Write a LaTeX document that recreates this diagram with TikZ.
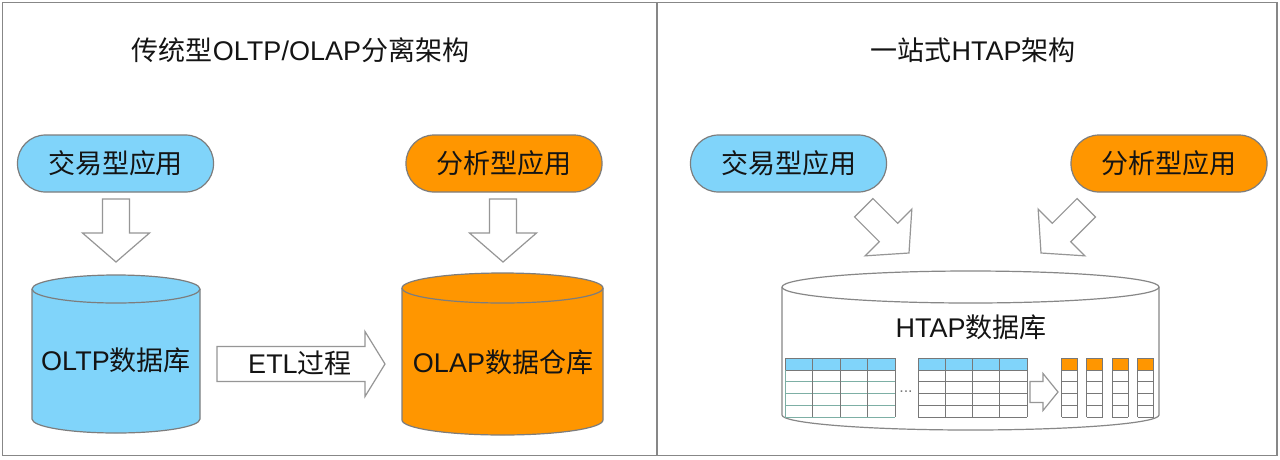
\documentclass[tikz,border=0pt]{standalone}
\usepackage{fontspec}
\setmainfont{Liberation Sans}
\newfontfamily\cjk{Noto Sans CJK SC}
\definecolor{appblue}{RGB}{128,212,250}
\definecolor{apporange}{RGB}{255,150,0}
\definecolor{edgegray}{RGB}{125,125,125}
\definecolor{framegray}{RGB}{135,135,135}
\definecolor{arrowgray}{RGB}{150,150,150}
\definecolor{gridgray}{RGB}{120,120,120}
\definecolor{gridteal}{RGB}{125,175,165}
\definecolor{txt}{RGB}{20,20,20}
\begin{document}
\begin{tikzpicture}[x=1pt,y=1pt,
  pill/.style={draw=edgegray, line width=1.2pt, rounded corners=28pt,
    minimum width=196pt, minimum height=57pt, inner sep=0pt,
    font=\fontsize{27}{32}\selectfont, text=txt},
  lbl/.style={inner sep=0pt, font=\fontsize{27}{32}\selectfont, text=txt},
  cyl/.style={draw=edgegray, line width=1.2pt},
  arrowline/.style={draw=arrowgray, fill=white, line width=1.2pt, line join=miter},
  pics/blockarr/.style n args={4}{code={
    \draw[arrowline] (0,0) -- (-#2,#3) -- (-#2,#4) -- (-#1,#4) -- (-#1,-#4)
      -- (-#2,-#4) -- (-#2,-#3) -- cycle;}},
  grid/.style={draw=gridgray, line width=0.8pt},
  tgrid/.style={draw=gridteal, line width=0.8pt}
]
\useasboundingbox (0,0) rectangle (1280,-459);
\fill[white] (0,0) rectangle (1280,-459);

% frames
\draw[framegray, line width=1.5pt] (2.5,-2.5) rectangle (1277,-455.5);
\draw[framegray, line width=1.5pt] (657,-2.5) -- (657,-455.5);

% titles
\node[lbl] (title1) at (300.5,-50) {{\cjk 传统型}OLTP/OLAP{\cjk 分离架构}};
\node[lbl] (title2) at (973,-50) {{\cjk 一站式}HTAP{\cjk 架构}};

% application pills
\node[pill, fill=appblue] (tx1) at (115.5,-163.5) {\cjk 交易型应用};
\node[pill, fill=apporange] (an1) at (504,-163.5) {\cjk 分析型应用};
\node[pill, fill=appblue] (tx2) at (788.5,-163.5) {\cjk 交易型应用};
\node[pill, fill=apporange] (an2) at (1169,-163.5) {\cjk 分析型应用};

% left cylinder (OLTP)
\path[cyl, fill=appblue] (32,-289) -- (32,-419)
  arc[start angle=180, end angle=360, x radius=84, y radius=14] -- (200,-289)
  arc[start angle=0, end angle=180, x radius=84, y radius=14] -- cycle;
\draw[cyl] (32,-289) arc[start angle=180, end angle=360, x radius=84, y radius=14];
\node[lbl] (oltp) at (116,-360) {OLTP{\cjk 数据库}};

% right cylinder (OLAP)
\path[cyl, fill=apporange] (402,-288) -- (402,-420)
  arc[start angle=180, end angle=360, x radius=100.5, y radius=15] -- (603,-288)
  arc[start angle=0, end angle=180, x radius=100.5, y radius=15] -- cycle;
\draw[cyl] (402,-288) arc[start angle=180, end angle=360, x radius=100.5, y radius=15];
\node[lbl] (olap) at (503,-362) {OLAP{\cjk 数据仓库}};

% HTAP cylinder
\path[cyl, draw=framegray, fill=white] (782,-287) -- (782,-415)
  arc[start angle=180, end angle=360, x radius=188.5, y radius=15] -- (1159,-287)
  arc[start angle=0, end angle=180, x radius=188.5, y radius=16] -- cycle;
\draw[cyl, draw=framegray] (782,-287) arc[start angle=180, end angle=360, x radius=188.5, y radius=16];
\node[lbl] (htap) at (971,-327) {HTAP{\cjk 数据库}};

% block arrows (length, head length, head half width, shaft half width)
\pic[rotate=-90] (down1) at (116,-262) {blockarr={63}{29}{33.5}{13.5}};
\pic[rotate=-90] (down2) at (503,-262) {blockarr={63}{29}{33.5}{13.5}};
\pic[rotate=-45] (diag1) at (909,-253) {blockarr={64}{29}{33}{13}};
\pic[rotate=-135] (diag2) at (1041,-253) {blockarr={64}{29}{33}{13}};
\pic (etl) at (385,-364) {blockarr={168}{20}{32.5}{17.5}};
\node[lbl] (etltxt) at (300,-363) {ETL{\cjk 过程}};

% left row table
\fill[appblue] (785,-358) rectangle (895,-370);
\foreach \y in {381.75,393.5,405.25,417} \draw[tgrid] (785,-\y) -- (895,-\y);
\foreach \y in {358,370} \draw[grid] (785,-\y) -- (895,-\y);
\foreach \x in {812.5,840,867.5,895} \draw[grid] (\x,-358) -- (\x,-417);
\draw[grid] (785,-358) -- (785,-370);
\draw[tgrid] (785,-370) -- (785,-417);

\node[inner sep=0pt, font=\fontsize{16}{18}\selectfont, text=gridgray] (dots) at (906,-392) {...};

% middle row table
\fill[appblue] (918,-358) rectangle (1027,-370);
\foreach \y in {358,370,381.75,393.5,405.25,417} \draw[grid] (918,-\y) -- (1027,-\y);
\foreach \x in {918,945.25,972.5,999.75,1027} \draw[grid] (\x,-358) -- (\x,-417);

% conversion arrow
\pic (conv) at (1058,-392) {blockarr={28}{15}{18.5}{10.5}};

% column strips
\foreach \x in {1061.5,1086.5,1112,1137.5} {
  \fill[apporange] (\x,-358) rectangle ++(16,-12);
  \foreach \y in {358,370,381.75,393.5,405.25,417} \draw[grid] (\x,-\y) -- ++(16,0);
  \draw[grid] (\x,-358) -- (\x,-417);
  \draw[grid] (\x+16,-358) -- (\x+16,-417);
}
\end{tikzpicture}
\end{document}
